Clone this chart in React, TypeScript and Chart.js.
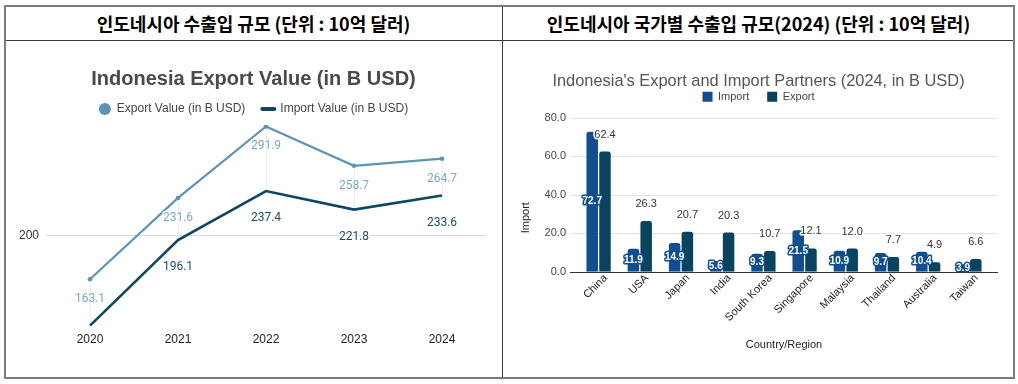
import React, { useEffect, useRef } from "react";
import { Chart, registerables, layouts } from "chart.js";

Chart.register(...registerables);

// ---------- data ----------
const years = ["2020", "2021", "2022", "2023", "2024"];
const exportValues = [163.1, 231.6, 291.9, 258.7, 264.7];
const importValues = [124.0, 196.1, 237.4, 221.8, 233.6];
const lineYTicks = [200];

const partners = ["China", "USA", "Japan", "India", "South Korea", "Singapore", "Malaysia", "Thailand", "Australia", "Taiwan"];
const partnerImports = [72.7, 11.9, 14.9, 5.6, 9.3, 21.5, 10.9, 9.7, 10.4, 3.9];
const partnerExports = [62.4, 26.3, 20.7, 20.3, 10.7, 12.1, 12.0, 7.7, 4.9, 6.6];

const leftHeader = "인도네시아 수출입 규모 (단위 : 10억 달러)";
const rightHeader = "인도네시아 국가별 수출입 규모(2024) (단위 : 10억 달러)";

// ---------- styles ----------
const EXPORT_LINE = "#5b95b6";
const EXPORT_LABEL = "#78a8c6";
const IMPORT_LINE = "#0c4863";
const IMPORT_LABEL = "#1e4b63";
const BAR_IMPORT = "#0f4e90";
const BAR_EXPORT = "#08445f";
const ARIAL = '"Liberation Sans", Arial, sans-serif';
const ROBOTO = 'Roboto, "Liberation Sans", sans-serif';

function makeSpacer(h: number) {
  return {
    id: "spacer",
    beforeInit(chart: any) {
      const box: any = {
        position: "top",
        weight: 1,
        fullSize: true,
        options: {},
        left: 0,
        top: 0,
        right: 0,
        bottom: 0,
        width: 0,
        height: h,
        isHorizontal: () => true,
        update(maxWidth: number) {
          box.width = maxWidth;
          box.height = h;
        },
        draw() {},
      };
      layouts.addBox(chart, box);
    },
  };
}

const lineDecor = {
  id: "lineDecor",
  beforeDatasetsDraw(chart: any) {
    const ctx = chart.ctx;
    const a = chart.getDatasetMeta(0).data;
    const b = chart.getDatasetMeta(1).data;
    ctx.save();
    ctx.strokeStyle = "#ececec";
    ctx.lineWidth = 1;
    a.forEach((p: any, i: number) => {
      const q = b[i];
      if (!q) return;
      const x = Math.round(p.x) + 0.5;
      ctx.beginPath();
      ctx.moveTo(x, p.y);
      ctx.lineTo(x, Math.min(q.y, chart.chartArea.bottom));
      ctx.stroke();
    });
    ctx.restore();
  },
  afterDatasetsDraw(chart: any) {
    const ctx = chart.ctx;
    const cfg = [
      { color: EXPORT_LABEL, dy: 20 },
      { color: IMPORT_LABEL, dy: 27 },
    ];
    ctx.save();
    ctx.font = `12px ${ROBOTO}`;
    ctx.textAlign = "center";
    ctx.textBaseline = "middle";
    ctx.lineJoin = "round";
    chart.data.datasets.forEach((ds: any, di: number) => {
      const meta = chart.getDatasetMeta(di);
      meta.data.forEach((pt: any, i: number) => {
        const y = pt.y + cfg[di].dy;
        if (y > chart.chartArea.bottom) return;
        const txt = Number(ds.data[i]).toFixed(1);
        ctx.strokeStyle = "#ffffff";
        ctx.lineWidth = 3;
        ctx.strokeText(txt, pt.x, y);
        ctx.fillStyle = cfg[di].color;
        ctx.fillText(txt, pt.x, y);
      });
    });
    ctx.restore();
  },
};

const barDecor = {
  id: "barDecor",
  beforeDatasetsDraw(chart: any) {
    const { ctx, chartArea } = chart;
    const ys = chart.scales.y;
    ctx.save();
    ctx.lineWidth = 1;
    ys.ticks.forEach((t: any) => {
      if (t.value === 0) return;
      const y = Math.round(ys.getPixelForValue(t.value)) + 0.5;
      ctx.strokeStyle = "#e2e2e2";
      ctx.beginPath();
      ctx.moveTo(chartArea.left - 8, y);
      ctx.lineTo(chartArea.right + 8, y);
      ctx.stroke();
    });
    ctx.restore();
  },
  afterDatasetsDraw(chart: any) {
    const { ctx, chartArea } = chart;
    const ys = chart.scales.y;
    ctx.save();
    const y0 = Math.round(ys.getPixelForValue(0)) + 0.5;
    ctx.strokeStyle = "#333333";
    ctx.lineWidth = 1;
    ctx.beginPath();
    ctx.moveTo(chartArea.left - 8, y0);
    ctx.lineTo(chartArea.right + 8, y0);
    ctx.stroke();

    ctx.textAlign = "center";
    ctx.textBaseline = "middle";
    ctx.lineJoin = "round";
    const m0 = chart.getDatasetMeta(0);
    ctx.font = `bold 10px ${ARIAL}`;
    m0.data.forEach((bar: any, i: number) => {
      const txt = Number(chart.data.datasets[0].data[i]).toFixed(1);
      const y = (bar.y + bar.base) / 2;
      ctx.strokeStyle = BAR_IMPORT;
      ctx.lineWidth = 3;
      ctx.strokeText(txt, bar.x, y);
      ctx.fillStyle = "#ffffff";
      ctx.fillText(txt, bar.x, y);
    });
    const m1 = chart.getDatasetMeta(1);
    ctx.font = `11px ${ARIAL}`;
    m1.data.forEach((bar: any, i: number) => {
      const txt = Number(chart.data.datasets[1].data[i]).toFixed(1);
      const y = bar.y - 17;
      ctx.strokeStyle = "#ffffff";
      ctx.lineWidth = 3;
      ctx.strokeText(txt, bar.x, y);
      ctx.fillStyle = "#333333";
      ctx.fillText(txt, bar.x, y);
    });
    ctx.translate(chartArea.left - 52, (chartArea.top + chartArea.bottom) / 2 + 23);
    ctx.rotate(-Math.PI / 2);
    ctx.font = `11px ${ARIAL}`;
    ctx.fillStyle = "#222222";
    ctx.fillText("Import", 0, 0);
    ctx.restore();
  },
};

function LineChart() {
  const ref = useRef<HTMLCanvasElement | null>(null);
  useEffect(() => {
    if (!ref.current) return;
    const chart = new Chart(ref.current, {
      type: "line",
      data: {
        labels: years,
        datasets: [
          {
            label: "Export Value (in B USD)",
            data: exportValues,
            borderColor: EXPORT_LINE,
            backgroundColor: EXPORT_LINE,
            borderWidth: 2.2,
            pointRadius: 2.3,
            pointHoverRadius: 2.3,
            pointBorderWidth: 0,
            pointBackgroundColor: EXPORT_LINE,
            tension: 0,
          },
          {
            label: "Import Value (in B USD)",
            data: importValues,
            borderColor: IMPORT_LINE,
            backgroundColor: IMPORT_LINE,
            borderWidth: 2.6,
            pointRadius: 0,
            pointHoverRadius: 0,
            tension: 0,
          },
        ],
      },
      options: {
        animation: false,
        responsive: false,
        events: [],
        layout: { padding: 0 },
        plugins: {
          title: {
            display: true,
            text: "Indonesia Export Value (in B USD)",
            color: "#4a4a4a",
            font: { family: ARIAL, size: 20, weight: "bold" },
            padding: { top: 25, bottom: -5 },
          },
          legend: {
            display: true,
            labels: {
              usePointStyle: true,
              boxWidth: 14,
              boxHeight: 8.5,
              padding: 17,
              color: "#444444",
              font: { family: ARIAL, size: 12 },
              generateLabels: (c: any) =>
                c.data.datasets.map((ds: any, i: number) => ({
                  text: ds.label,
                  fillStyle: ds.borderColor,
                  strokeStyle: ds.borderColor,
                  lineWidth: i === 0 ? 0 : 4,
                  lineCap: "round",
                  pointStyle: i === 0 ? "circle" : "line",
                  hidden: false,
                  datasetIndex: i,
                  fontColor: "#444444",
                })),
            },
          },
          tooltip: { enabled: false },
        },
        scales: {
          x: {
            offset: true,
            grid: { display: false, drawTicks: false },
            border: { display: false },
            ticks: { color: "#222222", font: { family: ARIAL, size: 12 }, padding: 5 },
            afterFit: (s: any) => {
              s.height = 50;
              s.paddingRight = 15;
            },
          },
          y: {
            min: 122.8,
            max: 293.1,
            grid: { color: "#d9d9d9", drawTicks: false, lineWidth: 1 },
            border: { display: false },
            afterBuildTicks: (s: any) => {
              s.ticks = lineYTicks.map((v) => ({ value: v }));
            },
            ticks: { color: "#333333", font: { family: ARIAL, size: 12 }, padding: 7 },
            afterFit: (s: any) => {
              s.width = 40;
            },
          },
        },
      } as any,
      plugins: [lineDecor],
    });
    return () => chart.destroy();
  }, []);
  return <canvas ref={ref} width={495} height={335} style={{ display: "block", width: 495, height: 335 }} />;
}

function BarChart() {
  const ref = useRef<HTMLCanvasElement | null>(null);
  useEffect(() => {
    if (!ref.current) return;
    const chart = new Chart(ref.current, {
      type: "bar",
      data: {
        labels: partners,
        datasets: [
          {
            label: "Import",
            data: partnerImports,
            backgroundColor: BAR_IMPORT,
            borderRadius: 2.5,
            borderSkipped: "bottom",
            categoryPercentage: 0.62,
            barPercentage: 0.9,
          },
          {
            label: "Export",
            data: partnerExports,
            backgroundColor: BAR_EXPORT,
            borderRadius: 2.5,
            borderSkipped: "bottom",
            categoryPercentage: 0.62,
            barPercentage: 0.9,
          },
        ],
      },
      options: {
        animation: false,
        responsive: false,
        events: [],
        layout: { padding: 0 },
        plugins: {
          title: {
            display: true,
            text: "Indonesia's Export and Import Partners (2024, in B USD)",
            color: "#555555",
            font: { family: ARIAL, size: 16.4, weight: "normal" },
            padding: { top: 30, bottom: -18.4 },
          },
          legend: {
            display: true,
            labels: {
              boxWidth: 10,
              boxHeight: 10,
              padding: 18,
              color: "#444444",
              font: { family: ARIAL, size: 11 },
            },
          },
          tooltip: { enabled: false },
        },
        scales: {
          x: {
            grid: { display: false, drawTicks: false },
            border: { display: false },
            ticks: {
              autoSkip: false,
              maxRotation: 45,
              minRotation: 45,
              color: "#222222",
              font: { family: ARIAL, size: 11 },
              padding: 0,
              labelOffset: 7,
            },
            title: {
              display: true,
              text: "Country/Region",
              color: "#222222",
              font: { family: ARIAL, size: 11 },
              padding: { top: 0, bottom: 25 },
            },
            afterFit: (s: any) => {
              s.height = 105.3;
              s.paddingRight = 23;
            },
          },
          y: {
            min: 0,
            max: 80,
            grid: { display: false, drawTicks: false },
            border: { display: false },
            ticks: {
              stepSize: 20,
              color: "#444444",
              font: { family: ARIAL, size: 11 },
              padding: 12,
              callback: (v: any) => Number(v).toFixed(1),
            },
            afterFit: (s: any) => {
              s.width = 74;
            },
          },
        },
      } as any,
      plugins: [barDecor, makeSpacer(5.4)],
    });
    return () => chart.destroy();
  }, []);
  return <canvas ref={ref} width={509} height={335} style={{ display: "block", width: 509, height: 335 }} />;
}

const headerStyle: React.CSSProperties = {
  position: "absolute",
  top: 6,
  height: 33,
  display: "flex",
  alignItems: "center",
  justifyContent: "center",
  fontFamily: '"Noto Sans CJK KR", "Noto Sans", sans-serif',
  fontWeight: 700,
  fontSize: 18,
  color: "#000",
  whiteSpace: "nowrap",
};

export default function App() {
  return (
    <div style={{ position: "fixed", left: 0, top: 0, width: 1018, height: 384, background: "#fff", overflow: "hidden" }}>
      <div
        style={{
          position: "absolute",
          left: 4,
          top: 5,
          width: 1011,
          height: 374,
          boxSizing: "border-box",
          border: "2px solid #7c7c7c",
        }}
      />
      <div style={{ position: "absolute", left: 6, top: 39.5, width: 1007, height: 1.5, background: "#3a3a3a" }} />
      <div style={{ position: "absolute", left: 501.5, top: 7, width: 1.6, height: 370, background: "#3a3a3a" }} />
      <div style={{ ...headerStyle, left: 6, width: 495 }}>{leftHeader}</div>
      <div style={{ ...headerStyle, left: 504, width: 509 }}>{rightHeader}</div>
      <div style={{ position: "absolute", left: 6, top: 42 }}>
        <LineChart />
      </div>
      <div style={{ position: "absolute", left: 504, top: 42 }}>
        <BarChart />
      </div>
    </div>
  );
}
